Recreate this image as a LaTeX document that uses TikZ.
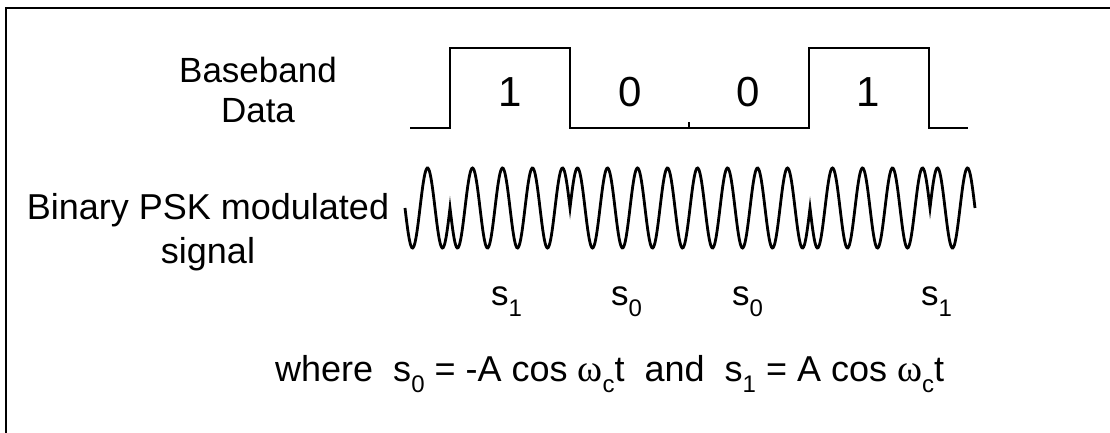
\documentclass[tikz,border=0pt]{standalone}
\usepackage{fontspec}
\setmainfont{Liberation Sans}
\newfontfamily\omfont{Liberation Serif}
\newcommand{\bigtxt}{\fontsize{35}{40}\selectfont}
\newcommand{\sub}[1]{\raisebox{-11pt}{\fontsize{24}{24}\selectfont #1}}
\newcommand{\om}{{\omfont\fontsize{38}{40}\selectfont ω}}
\begin{document}
\begin{tikzpicture}[x=1pt,y=1pt,
  sig/.style={line width=2.4pt, line join=miter},
  wave/.style={line width=2.8pt},
  txt/.style={inner sep=0pt, font=\bigtxt},
  bit/.style={inner sep=0pt, font=\fontsize{42}{44}\selectfont},
  frame/.style={line width=2.6pt}]
\useasboundingbox (0,0) rectangle (1110,433);
% frame
\draw[frame] (6,0) -- (6,425) -- (1110,425);
% baseband data
\draw[sig] (410,305) -- (450,305) -- (450,385) -- (570,385) -- (570,305)
  -- (809,305) -- (809,385) -- (929,385) -- (929,305) -- (968,305);
\draw[line width=1.2pt] (689,305) -- (689,311);
\node[bit] (b1) at (510,341) {1};
\node[bit] (b2) at (630,341) {0};
\node[bit] (b3) at (748,341) {0};
\node[bit] (b4) at (868,341) {1};
\node[txt, align=center, font=\fontsize{35}{40}\selectfont] (bb) at (258,343) {Baseband\\Data};
% PSK waveform
\draw[wave] plot[domain=405:450, samples=60] (\x, {225-40*sin(12*(\x-405))})
  -- plot[domain=450:570, samples=150] (\x, {225+40*sin(12*(\x-405))})
  -- plot[domain=570:810, samples=300] (\x, {225-40*sin(12*(\x-405))})
  -- plot[domain=810:930, samples=150] (\x, {225+40*sin(12*(\x-405))})
  -- plot[domain=930:975, samples=60] (\x, {225-40*sin(12*(\x-405))});
\node[txt, align=center, font=\fontsize{36}{44}\selectfont] (psk) at (208,201) {Binary PSK modulated\\signal};
% symbol labels
\node[txt, anchor=base west] (l1) at (491,127) {s\sub{1}};
\node[txt, anchor=base west] (l2) at (611,127) {s\sub{0}};
\node[txt, anchor=base west] (l3) at (732,127) {s\sub{0}};
\node[txt, anchor=base west] (l4) at (921,127) {s\sub{1}};
\node[txt, anchor=base west, font=\fontsize{36}{40}\selectfont] (eq) at (275,51) {where\ \ s\sub{0}\ =\ -A cos \om\sub{c}t\ \ and\ \ s\sub{1}\ =\ A cos \om\sub{c}t};
\end{tikzpicture}
\end{document}
